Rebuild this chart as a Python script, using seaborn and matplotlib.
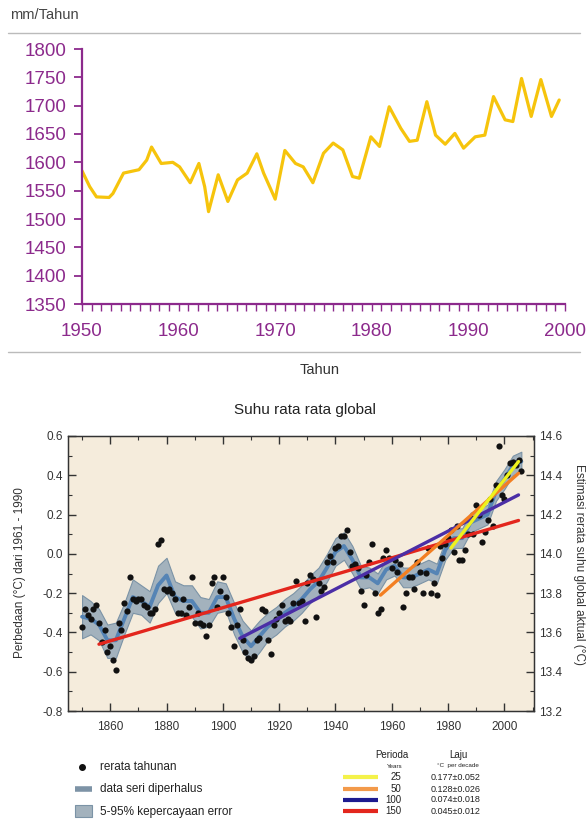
import numpy as np
import pandas as pd
import matplotlib
matplotlib.use("Agg")
import matplotlib.pyplot as plt
from matplotlib.lines import Line2D
from matplotlib.patches import Rectangle
import seaborn as sns

# ---- top chart: rainfall (mm/Tahun) ----
rain_years = [1950.0, 1950.8, 1951.5, 1952.8, 1953.2, 1954.3, 1955.1, 1955.9, 1956.7, 1957.2,
              1958.2, 1959.4, 1960.1, 1961.2, 1962.1, 1962.7, 1963.1, 1964.1, 1965.1, 1966.1,
              1967.1, 1968.1, 1968.8, 1970.0, 1971.0, 1972.1, 1972.9, 1973.9, 1975.0, 1976.0,
              1977.0, 1978.0, 1978.7, 1979.9, 1980.8, 1981.8, 1983.0, 1983.9, 1984.7, 1985.7,
              1986.6, 1987.6, 1988.6, 1989.5, 1990.7, 1991.7, 1992.6, 1993.8, 1994.6, 1995.5,
              1996.5, 1997.5, 1998.6, 1999.4]
rain_values = [1585, 1557, 1539, 1538, 1545, 1581, 1584, 1587, 1604, 1627,
               1598, 1600, 1592, 1564, 1598, 1557, 1513, 1578, 1531, 1569,
               1581, 1615, 1581, 1535, 1621, 1598, 1592, 1564, 1616, 1634,
               1622, 1575, 1572, 1645, 1628, 1698, 1660, 1637, 1639, 1707,
               1648, 1632, 1651, 1625, 1645, 1648, 1716, 1675, 1672, 1748,
               1681, 1746, 1681, 1710]

# ---- bottom chart: global temperature anomaly ----
temp_years = list(range(1850, 2007))
temp_anom = [
    -0.37, -0.28, -0.31, -0.33, -0.28, -0.26, -0.35, -0.45, -0.39, -0.50,
    -0.47, -0.54, -0.59, -0.35, -0.39, -0.25, -0.29, -0.12, -0.23, -0.24,
    -0.23, -0.23, -0.26, -0.27, -0.30, -0.30, -0.28, 0.05, 0.07, -0.18,
    -0.19, -0.18, -0.20, -0.23, -0.30, -0.30, -0.23, -0.31, -0.27, -0.12,
    -0.35, -0.30, -0.35, -0.36, -0.42, -0.36, -0.15, -0.12, -0.27, -0.19,
    -0.12, -0.22, -0.30, -0.37, -0.47, -0.36, -0.28, -0.44, -0.50, -0.53,
    -0.54, -0.52, -0.44, -0.43, -0.28, -0.29, -0.44, -0.51, -0.36, -0.33,
    -0.30, -0.26, -0.34, -0.33, -0.34, -0.25, -0.14, -0.25, -0.24, -0.34,
    -0.15, -0.11, -0.13, -0.32, -0.15, -0.19, -0.17, -0.04, -0.01, -0.04,
    0.03, 0.04, 0.09, 0.09, 0.12, 0.01, -0.06, -0.05, -0.07, -0.19,
    -0.26, -0.11, -0.04, 0.05, -0.20, -0.30, -0.28, -0.02, 0.02, -0.02,
    -0.07, -0.03, -0.09, -0.05, -0.27, -0.20, -0.12, -0.12, -0.18, -0.04,
    -0.09, -0.20, -0.10, 0.03, -0.20, -0.15, -0.21, 0.04, -0.02, 0.05,
    0.08, 0.12, 0.01, 0.14, -0.03, -0.03, 0.02, 0.10, 0.18, 0.10,
    0.25, 0.20, 0.06, 0.11, 0.17, 0.28, 0.14, 0.35, 0.55, 0.30,
    0.28, 0.40, 0.46, 0.47, 0.45, 0.48, 0.42]

smooth_years = list(range(1850, 2007, 3))
smooth_values = [-0.32, -0.33, -0.36, -0.44, -0.44, -0.33, -0.22, -0.24, -0.27, -0.16,
                 -0.11, -0.22, -0.24, -0.24, -0.30, -0.30, -0.22, -0.22, -0.33, -0.42,
                 -0.47, -0.42, -0.37, -0.34, -0.30, -0.27, -0.23, -0.18, -0.14, -0.07,
                 0.01, 0.04, -0.03, -0.12, -0.12, -0.15, -0.08, -0.06, -0.12, -0.12,
                 -0.10, -0.08, -0.10, 0.02, 0.08, 0.08, 0.16, 0.18, 0.20, 0.32,
                 0.38, 0.45, 0.47]
band_low = [-0.43, -0.41, -0.44, -0.53, -0.53, -0.41, -0.30, -0.31, -0.35, -0.25,
            -0.20, -0.30, -0.32, -0.32, -0.38, -0.37, -0.30, -0.29, -0.41, -0.50,
            -0.55, -0.50, -0.44, -0.41, -0.37, -0.34, -0.30, -0.25, -0.21, -0.14,
            -0.06, -0.03, -0.10, -0.18, -0.17, -0.20, -0.13, -0.11, -0.17, -0.17,
            -0.15, -0.13, -0.15, -0.03, 0.03, 0.03, 0.11, 0.13, 0.15, 0.27,
            0.33, 0.40, 0.42]
band_high = [-0.21, -0.24, -0.28, -0.36, -0.35, -0.25, -0.13, -0.16, -0.19, -0.06,
             -0.02, -0.14, -0.16, -0.16, -0.22, -0.23, -0.14, -0.15, -0.25, -0.34,
             -0.39, -0.34, -0.30, -0.27, -0.23, -0.20, -0.16, -0.11, -0.07, 0.00,
             0.08, 0.11, 0.04, -0.06, -0.07, -0.10, -0.03, -0.01, -0.07, -0.07,
             -0.05, -0.03, -0.05, 0.07, 0.13, 0.13, 0.21, 0.23, 0.25, 0.37,
             0.43, 0.50, 0.52]

# linear trends: period (years), start/end year, start/end value
trend_periods = [150, 100, 50, 25]
trend_start_year = [1856, 1906, 1956, 1981]
trend_end_year = [2005, 2005, 2005, 2005]
trend_start_val = [-0.46, -0.43, -0.21, 0.03]
trend_end_val = [0.17, 0.30, 0.41, 0.47]
trend_rates = ["0.045\u00b10.012", "0.074\u00b10.018", "0.128\u00b10.026", "0.177\u00b10.052"]
trend_colors = ["#e3261d", "#4b2ea6", "#f37f22", "#eef21c"]
legend_line_colors = ["#e3261d", "#1d1a8f", "#f39a4a", "#f4f24a"]

left_ticks = [-0.8, -0.6, -0.4, -0.2, 0.0, 0.2, 0.4, 0.6]
left_tick_labels = ["-0.8", "-0.6", "-0.4", "-0.2", "0.0", "0.2", "0.4", "0.6"]
right_ticks = [13.2, 13.4, 13.6, 13.8, 14.0, 14.2, 14.4, 14.6]
right_tick_labels = ["13.2", "13.4", "13.6", "13.8", "14.0", "14.2", "14.4", "14.6"]

purple = "#8c2a8c"
sns.set_style("white")
plt.rcParams["font.family"] = ["Liberation Sans", "DejaVu Sans"]

fig = plt.figure(figsize=(5.88, 8.23), dpi=100)

# ---------------- top chart ----------------
ax1 = fig.add_axes([82 / 588, 1 - 304 / 823, (565 - 82) / 588, (304 - 49) / 823])
sns.lineplot(x=rain_years, y=rain_values, ax=ax1, color="#f6c40c", linewidth=2.3)
ax1.set_xlim(1950, 2000)
ax1.set_ylim(1350, 1800)
ax1.set_yticks(np.arange(1350, 1801, 50))
ax1.set_xticks(np.arange(1950, 2001, 10))
ax1.set_xticks(np.arange(1950, 2001, 1), minor=True)
for s in ["top", "right"]:
    ax1.spines[s].set_visible(False)
for s in ["left", "bottom"]:
    ax1.spines[s].set_color(purple)
    ax1.spines[s].set_linewidth(1.6)
ax1.tick_params(axis="y", which="major", direction="out", length=6, width=1.3,
                color=purple, labelcolor=purple, labelsize=13.5, pad=5, left=True)
ax1.tick_params(axis="x", which="both", direction="out", length=5, width=1.0,
                color=purple, labelcolor=purple, labelsize=13.5, pad=9, bottom=True)
ax1.set_xlabel("")
ax1.set_ylabel("")

fig.text(10 / 588, 1 - 15 / 823, "mm/Tahun", fontsize=10.5, color="#444444", va="center")
fig.add_artist(Line2D([8 / 588, 580 / 588], [1 - 33 / 823] * 2, color="#bbbbbb", lw=1))
fig.add_artist(Line2D([8 / 588, 580 / 588], [1 - 352 / 823] * 2, color="#bbbbbb", lw=1))
fig.text(320 / 588, 1 - 370 / 823, "Tahun", fontsize=10.5, color="#333333",
         ha="center", va="center")

# ---------------- bottom chart ----------------
ax2 = fig.add_axes([68 / 588, 1 - 711 / 823, (534 - 68) / 588, (711 - 436) / 823])
ax2.set_facecolor("#f5ecdc")
ax2.fill_between(smooth_years, band_low, band_high, color="#a3b2bd",
                 edgecolor="#7b93a6", linewidth=0.8, zorder=1)
sns.lineplot(x=smooth_years, y=smooth_values, ax=ax2, color="#5584b5",
             linewidth=2.8, zorder=2)
sns.scatterplot(x=temp_years, y=temp_anom, ax=ax2, color="#111111", s=20,
                linewidth=0, zorder=3)
for i in range(len(trend_periods)):
    sns.lineplot(x=[trend_start_year[i], trend_end_year[i]],
                 y=[trend_start_val[i], trend_end_val[i]], ax=ax2,
                 color=trend_colors[i], linewidth=2.4, zorder=4 + i)

ax2.set_xlim(1845, 2010.5)
ax2.set_ylim(-0.8, 0.6)
ax2.set_xticks(np.arange(1860, 2001, 20))
ax2.set_xticks(np.arange(1850, 2011, 10), minor=True)
ax2.set_yticks(left_ticks)
ax2.set_yticks(np.arange(-0.8, 0.61, 0.1), minor=True)
ax2.set_yticklabels(left_tick_labels)
ax2.tick_params(which="major", direction="in", length=6, width=1, color="#333333",
                labelsize=8.5, labelcolor="#333333", top=True, bottom=True,
                left=True, right=False)
ax2.tick_params(which="minor", direction="in", length=3, width=0.8, color="#333333",
                top=True, bottom=True, left=True, right=False)
ax2.tick_params(axis="x", pad=7)
for s in ax2.spines.values():
    s.set_color("#333333")
    s.set_linewidth(1)
ax2.set_xlabel("")
ax2.set_ylabel("")

ax3 = ax2.twinx()
ax3.set_ylim(13.2, 14.6)
ax3.set_yticks(right_ticks)
ax3.set_yticks(np.arange(13.2, 14.61, 0.1), minor=True)
ax3.set_yticklabels(right_tick_labels)
ax3.tick_params(which="major", direction="in", length=6, width=1, color="#333333",
                labelsize=8.5, labelcolor="#333333")
ax3.tick_params(which="minor", direction="in", length=3, width=0.8, color="#333333")
for s in ax3.spines.values():
    s.set_color("#333333")

fig.text(305 / 588, 1 - 410 / 823, "Suhu rata rata global", fontsize=11,
         color="#222222", ha="center", va="center")
fig.text(20 / 588, 1 - 573 / 823, "Perbedaan (\u00b0C) dari 1961 - 1990", fontsize=8.5,
         color="#333333", rotation=90, ha="center", va="center")
fig.text(579 / 588, 1 - 565 / 823, "Estimasi rerata suhu global aktual (\u00b0C)",
         fontsize=8.5, color="#333333", rotation=-90, ha="center", va="center")

# ---------------- legends (pixel space overlay) ----------------
leg = fig.add_axes([0, 0, 1, 1])
leg.set_xlim(0, 588)
leg.set_ylim(823, 0)
leg.axis("off")
leg.patch.set_alpha(0)

leg.plot([82], [767], "o", color="#111111", markersize=4)
leg.text(100, 767, "rerata tahunan", fontsize=8.5, color="#222222", va="center")
leg.plot([75, 92], [789, 789], color="#7d93a6", linewidth=4, solid_capstyle="butt")
leg.text(100, 789, "data seri diperhalus", fontsize=8.5, color="#222222", va="center")
leg.add_patch(Rectangle((75, 805), 17, 12, facecolor="#a3b2bd", edgecolor="#7b93a6", lw=0.8))
leg.text(100, 812, "5-95% kepercayaan error", fontsize=8.5, color="#222222", va="center")

leg.text(392, 755, "Perioda", fontsize=7, color="#222222", ha="center", va="center")
leg.text(458, 755, "Laju", fontsize=7, color="#222222", ha="center", va="center")
leg.text(395, 766, "Years", fontsize=4.5, color="#222222", ha="center", va="center")
leg.text(458, 766, "\u00b0C  per decade", fontsize=4.5, color="#222222", ha="center", va="center")
row_y = [811, 800, 789, 777]
for i in range(len(trend_periods)):
    leg.plot([343, 378], [row_y[i], row_y[i]], color=legend_line_colors[i], linewidth=3,
             solid_capstyle="butt")
    leg.text(401, row_y[i], str(trend_periods[i]), fontsize=7, color="#222222",
             ha="right", va="center")
    leg.text(431, row_y[i], trend_rates[i], fontsize=6.5, color="#222222",
             ha="left", va="center")

fig.savefig("out.png", dpi=100)
